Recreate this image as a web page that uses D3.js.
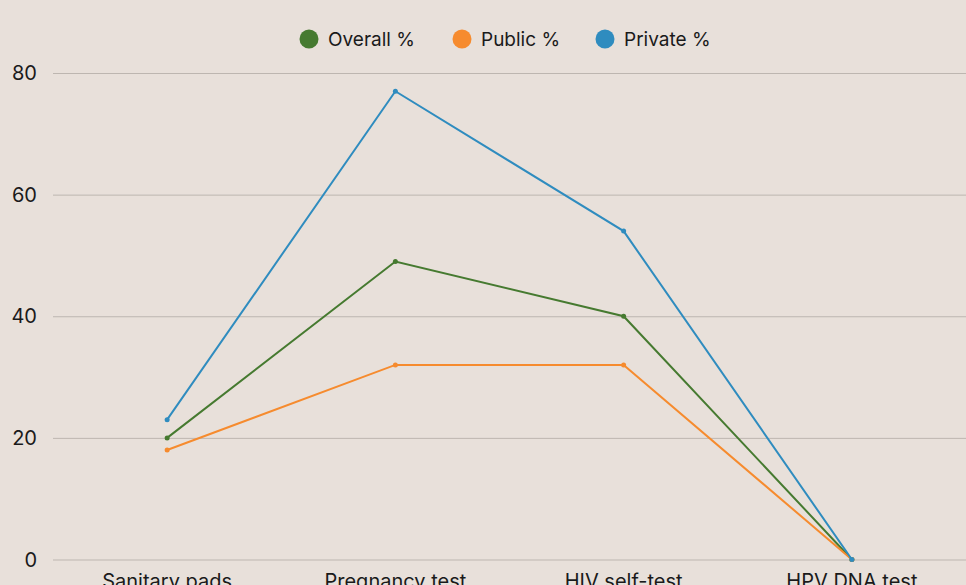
<!DOCTYPE html>
<html>
<head>
<meta charset="utf-8">
<script src="https://cdn.jsdelivr.net/npm/d3@7"></script>
<style>
body { margin: 0; background: #e8e0da; overflow: hidden; }
text { font-family: Inter, "Noto Sans", sans-serif; fill: #1a1a1a; }
.grid line { stroke: #bdb6b0; stroke-width: 1; }
.grid path { display: none; }
.line { fill: none; stroke-width: 2; }
</style>
</head>
<body>
<div id="graph"></div>
<script>
var categories = ['Sanitary pads', 'Pregnancy test', 'HIV self-test', 'HPV DNA test'];
var overall = [20, 49, 40, 0];
var publicPct = [18, 32, 32, 0];
var privatePct = [23, 77, 54, 0];
var yTicks = [0, 20, 40, 60, 80];

var series = [
  {name: 'Overall %', values: overall, color: '#467a30'},
  {name: 'Public %', values: publicPct, color: '#f68b2e'},
  {name: 'Private %', values: privatePct, color: '#2f8cbf'}
];

var svgWidth = 966,
svgHeight = 585,
svg = d3.select('#graph').append('svg').attr('width', svgWidth).attr('height', svgHeight),
margin = {top: 73, right: 0, bottom: 25, left: 53},
width = svgWidth - margin.left - margin.right,
height = svgHeight - margin.bottom - margin.top;

svg.append('rect').attr('width', svgWidth).attr('height', svgHeight).attr('fill', '#e8e0da');

var g = svg.append('g').attr('transform', 'translate(' + margin.left + ',' + margin.top + ')');

var x = d3.scaleBand().domain(categories).range([0, width]);
var y = d3.scaleLinear().domain([0, 80]).range([height - 0.5, 0]);

// grid
g.append('g').attr('class', 'grid')
.call(d3.axisLeft(y).tickValues(yTicks).tickSize(-width).tickFormat(''))
.selectAll('line').attr('stroke', d => d === 0 ? '#8f8985' : '#bdb6b0');

// y labels
g.selectAll('.ylab').data(yTicks).enter().append('text')
.attr('x', -16)
.attr('y', d => y(d))
.attr('dy', '0.35em')
.style('text-anchor', 'end')
.style('font-size', '20px')
.text(d => d);

// x labels
g.selectAll('.xlab').data(categories).enter().append('text')
.attr('x', d => x(d) + x.bandwidth() / 2)
.attr('y', height + 28)
.style('text-anchor', 'middle')
.style('font-size', '20px')
.text(d => d);

var line = d3.line()
.x(function(d, i) { return x(categories[i]) + x.bandwidth() / 2; })
.y(function(d) { return y(d); });

series.forEach(function(s) {
  g.append('path')
  .datum(s.values)
  .attr('class', 'line')
  .attr('stroke', s.color)
  .attr('d', line);

  g.selectAll(null).data(s.values).enter().append('circle')
  .attr('cx', (d, i) => x(categories[i]) + x.bandwidth() / 2)
  .attr('cy', d => y(d))
  .attr('r', 2.5)
  .attr('fill', s.color);
});

// title, mostly above the visible area
svg.append('text')
.attr('x', 483)
.attr('y', -7)
.style('text-anchor', 'middle')
.style('font-size', '20px')
.style('font-weight', 'bold')
.text('Availability of key products by type of pharmacy');

// legend
var legX = [309, 462, 605];
var leg = svg.selectAll('.leg').data(series).enter().append('g')
.attr('transform', (d, i) => 'translate(' + legX[i] + ',39)');
leg.append('circle').attr('r', 9.5).attr('fill', d => d.color);
leg.append('text')
.attr('x', 19)
.attr('dy', '0.35em')
.style('font-size', '19px')
.text(d => d.name);
</script>
</body>
</html>
